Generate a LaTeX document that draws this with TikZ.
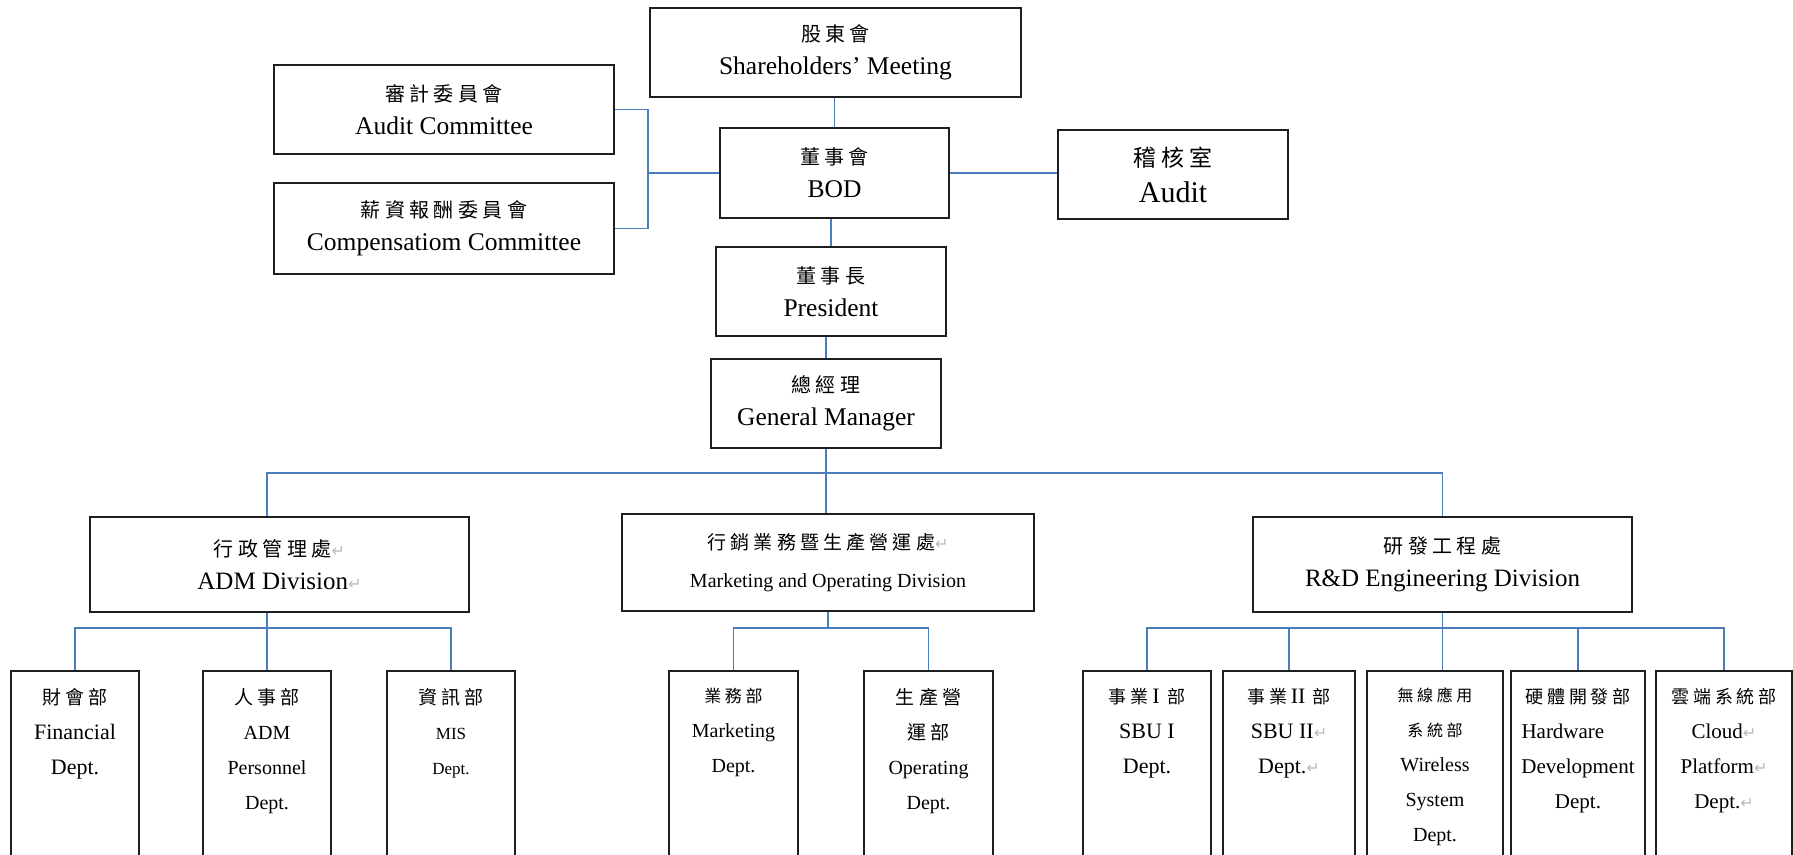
\documentclass[tikz,border=0pt]{standalone}
\usepackage{fontspec}
\setmainfont{Liberation Serif}
\newfontfamily\cjk[LetterSpace=22]{Noto Sans CJK TC}
\newfontfamily\symf{DejaVu Sans}
\definecolor{boxc}{RGB}{30,30,30}
\definecolor{linkc}{RGB}{74,126,187}
\newcommand{\zh}[2][20]{{\cjk\fontsize{#1}{#1}\selectfont #2}}
\newcommand{\pmk}{{\symf\fontsize{16}{16}\selectfont\color{gray!55}\char"21B5}}

\begin{document}
\begin{tikzpicture}[x=1pt, y=-1pt,
    box/.style={draw=boxc, line width=1.6pt, align=center, inner sep=0pt, font=\fontsize{25.5}{33}\selectfont},
    dept/.style={draw=boxc, line width=1.6pt, anchor=north, inner sep=0pt, minimum width=128pt, minimum height=186pt},
    dtxt/.style={anchor=north, align=center, inner sep=0pt, yshift=-18pt, font=\fontsize{#1}{35}\selectfont},
    dtxt/.default=20,
    link/.style={draw=linkc, line width=1.6pt}]
    \useasboundingbox (0,0) rectangle (1793,854);

    % board level
    \node[box, minimum width=371pt, minimum height=89pt] at (835.5,52.5) (sh) {\zh{股東會}\\Shareholders' Meeting};
    \node[box, minimum width=340pt, minimum height=89pt] at (444,109.5) (ac) {\zh{審計委員會}\\Audit Committee};
    \node[box, minimum width=340pt, minimum height=91pt] at (444,228.5) (cc) {\zh{薪資報酬委員會}\\Compensatiom Committee};
    \node[box, minimum width=229pt, minimum height=90pt] at (834.5,173) (bod) {\zh{董事會}\\BOD};
    \node[box, minimum width=230pt, minimum height=89pt, font=\fontsize{30}{36}\selectfont] at (1173,174.5) (aud) {\zh[23]{稽核室}\\Audit};
    \node[box, minimum width=230pt, minimum height=89pt] at (831,291.5) (pres) {\zh{董事長}\\President};
    \node[box, minimum width=230pt, minimum height=89pt] at (826,403.5) (gm) {\zh{總經理}\\General Manager};

    % divisions
    \node[box, minimum width=379pt, minimum height=95pt, font=\fontsize{25}{33}\selectfont] at (279.5,564.5) (adm) {\zh{行政管理處}\pmk\\ADM Division\pmk};
    \node[box, minimum width=412pt, minimum height=97pt, font=\fontsize{20}{38}\selectfont] at (828,562.5) (mkt) {\zh[19]{行銷業務暨生產營運處}\pmk\\Marketing and Operating Division};
    \node[box, minimum width=379pt, minimum height=95pt, font=\fontsize{25}{33}\selectfont] at (1442.5,564.5) (rd) {\zh{研發工程處}\\R\&D Engineering Division};

    % departments
    \node[dept, label={[dtxt=22]north:{\zh[19]{財會部}\\Financial\\Dept.}}] at (75,670) (fin) {};
    \node[dept, label={[dtxt]north:{\zh[19]{人事部}\\ADM\\Personnel\\Dept.}}] at (267,670) (per) {};
    \node[dept, label={[dtxt=17]north:{\zh[19]{資訊部}\\MIS\\Dept.}}] at (451,670) (mis) {};
    \node[dept, minimum width=129pt, label={[dtxt]north:{\zh[17]{業務部}\\Marketing\\Dept.}}] at (733.5,670) (mdep) {};
    \node[dept, minimum width=129pt, label={[dtxt]north:{\zh[19]{生產營}\\\zh[19]{運部}\\Operating\\Dept.}}] at (928.5,670) (odep) {};
    \node[dept, label={[dtxt=22]north:{\zh[18]{事業}\,I\,\,\zh[18]{部}\\SBU I\\Dept.}}] at (1147,670) (sb1) {};
    \node[dept, minimum width=132pt, label={[dtxt=22]north:{\zh[18]{事業}\,II\,\,\zh[18]{部}\\SBU II\pmk\\Dept.\pmk}}] at (1289,670) (sb2) {};
    \node[dept, minimum width=136pt, label={[dtxt]north:{\zh[16]{無線應用}\\\zh[16]{系統部}\\Wireless\\System\\Dept.}}] at (1435,670) (wl) {};
    \node[dept, minimum width=134pt, label={[dtxt=21]north:{\zh[18]{硬體開發部}\\\makebox[113pt][l]{Hardware}\\Development\\Dept.}}] at (1578,670) (hw) {};
    \node[dept, minimum width=136pt, label={[dtxt=21]north:{\zh[18]{雲端系統部}\\Cloud\pmk\\Platform\pmk\\Dept.\pmk}}] at (1724,670) (cl) {};

    \coordinate (brk) at (648,173);
    \coordinate (br) at (826,473);

    % connectors
    \draw[link] (bod.north) -- (bod.north |- sh.south);
    \draw[link] (ac.east) -| (brk) |- (cc.east);
    \draw[link] (brk) -- (bod.west);
    \draw[link] (bod.east) -- (bod.east -| aud.west);
    \draw[link] (pres.north) -- (pres.north |- bod.south);
    \draw[link] (gm.north) -- (gm.north |- pres.south);
    \draw[link] (gm.south) -- (gm.south |- mkt.north);
    \draw[link] (per.north |- adm.north) |- (br) -| (rd.north);

    \draw[link] (per.north) -- (per.north |- adm.south);
    \draw[link] (fin.north) -- ++(0,-42) -| (mis.north);
    \draw[link] (mkt.south) -- ++(0,17);
    \draw[link] (mdep.north) -- ++(0,-42) -| (odep.north);
    \draw[link] (rd.south) -- (rd.south |- wl.north);
    \draw[link] (sb1.north) -- ++(0,-42) -| (cl.north);
    \foreach \n in {sb2,hw}
        \draw[link] (\n.north) -- ++(0,-42);
\end{tikzpicture}
\end{document}
